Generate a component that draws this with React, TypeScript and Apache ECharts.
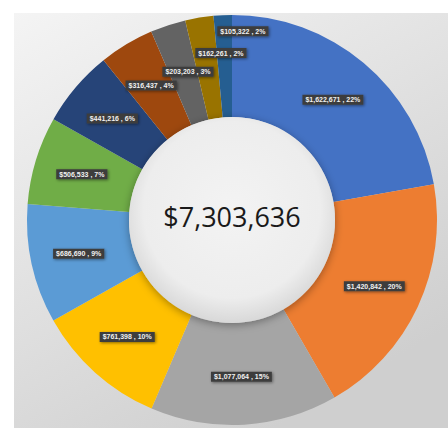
import React, { useEffect, useRef } from "react";
import * as echarts from "echarts";

const categories = ["A", "B", "C", "D", "E", "F", "G", "H", "I", "J", "K"];
const values = [1622671, 1420842, 1077064, 761398, 686690, 506533, 441216, 316437, 203203, 162261, 105322];
const percents = [22, 20, 15, 10, 9, 7, 6, 4, 3, 2, 2];
const colors = ["#4472C4", "#ED7D31", "#A5A5A5", "#FFC000", "#5B9BD5", "#70AD47", "#264478", "#9E480E", "#636363", "#997300", "#255E91"];
const totalLabel = "$7,303,636";
// label nudges for the small crowded slices (as in the reference)
const labelShift: Record<number, [number, number]> = { 8: [5, 1], 9: [14, -12], 10: [18, -32] };

const fmt = (v: number) => "$" + v.toLocaleString("en-US");

export default function App() {
  const ref = useRef<HTMLDivElement>(null);
  useEffect(() => {
    document.body.style.margin = "0";
    const chart = echarts.init(ref.current!, null, { renderer: "svg" });
    const cx = 232, cy = 220, r0 = 103, r1 = 205;
    chart.setOption({
      animation: false,
      graphic: [
        {
          type: "rect",
          z: -10,
          shape: { x: 14, y: 13, width: 434, height: 415 },
          style: {
            fill: new echarts.graphic.LinearGradient(0, 0, 0.6, 1, [
              { offset: 0, color: "#f4f4f4" },
              { offset: 1, color: "#cfcfcf" },
            ]),
          },
        },
        {
          type: "circle",
          z: 100,
          shape: { cx, cy, r: r0 },
          style: {
            fill: new echarts.graphic.RadialGradient(0.5, 0.45, 0.55, [
              { offset: 0, color: "#f3f3f3" },
              { offset: 0.78, color: "#ededed" },
              { offset: 1, color: "#d8d8d8" },
            ]),
            shadowBlur: 8,
            shadowColor: "rgba(0,0,0,0.35)",
            shadowOffsetY: 2,
          },
        },
        {
          type: "text",
          z: 101,
          x: cx,
          y: cy - 4,
          style: {
            text: totalLabel,
            fontSize: 27,
            fontFamily: "Open Sans",
            fill: "#1a1a1a",
            align: "center",
            verticalAlign: "middle",
          },
        },
      ],
      series: [
        {
          type: "pie",
          center: [cx, cy],
          radius: [r0, r1],
          startAngle: 90,
          clockwise: true,
          color: colors,
          itemStyle: { borderWidth: 0 },
          emphasis: { disabled: true },
          label: {
            show: true,
            position: "inside",
            formatter: (p: any) => fmt(p.value) + " , " + percents[p.dataIndex] + "%",
            fontSize: 7,
            fontWeight: "bold",
            fontFamily: "Liberation Sans",
            color: "#f0f0f0",
            backgroundColor: "#3c3c3c",
            padding: [2, 3, 1, 3],
            shadowColor: "rgba(0,0,0,0.45)",
            shadowBlur: 3,
            shadowOffsetX: 1,
            shadowOffsetY: 1,
          },
          labelLine: { show: false },
          labelLayout: (p: any) => {
            const s = labelShift[p.dataIndex];
            return s ? { dx: s[0], dy: s[1] } : {};
          },
          data: categories.map((c, i) => ({ name: c, value: values[i] })),
        },
      ],
    });
    return () => chart.dispose();
  }, []);
  return <div ref={ref} style={{ width: 448, height: 428 }} />;
}
